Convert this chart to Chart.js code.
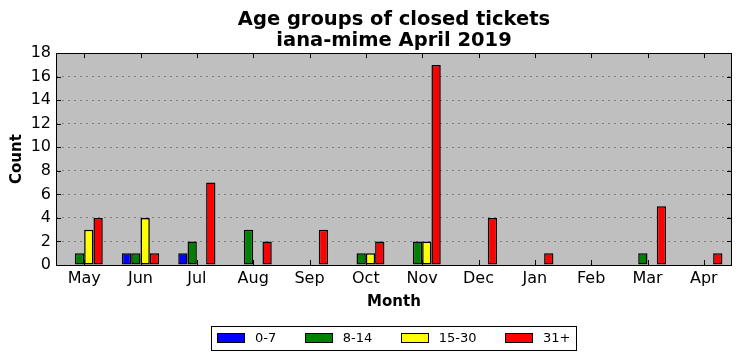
<!DOCTYPE html>
<html>
<head>
<meta charset="utf-8">
<script src="https://cdn.jsdelivr.net/npm/chart.js@4.4.1/dist/chart.umd.min.js"></script>
<style>
  html, body { margin: 0; padding: 0; background: #ffffff; }
  #wrap { width: 741px; height: 361px; }
</style>
</head>
<body>
<div id="wrap"><canvas id="ageChart" width="741" height="361"></canvas></div>
<script>
const months = ["May", "Jun", "Jul", "Aug", "Sep", "Oct", "Nov", "Dec", "Jan", "Feb", "Mar", "Apr"];
const age0to7 = [0, 1, 1, 0, 0, 0, 0, 0, 0, 0, 0, 0];
const age8to14 = [1, 1, 2, 3, 0, 1, 2, 0, 0, 0, 1, 0];
const age15to30 = [3, 4, 0, 0, 0, 1, 2, 0, 0, 0, 0, 0];
const age31plus = [4, 1, 7, 2, 3, 2, 17, 4, 1, 0, 5, 1];
const yTicks = [0, 2, 4, 6, 8, 10, 12, 14, 16, 18];

const FONT = "'DejaVu Sans', sans-serif";

// grey plot background, black frame, inward ticks and a boxed legend
const axesLook = {
  id: "axesLook",
  beforeDraw(chart) {
    const a = chart.chartArea;
    const ctx = chart.ctx;
    ctx.save();
    ctx.fillStyle = "#bfbfbf";
    ctx.fillRect(a.left, a.top, a.right - a.left, a.bottom - a.top);
    ctx.restore();
  },
  afterDraw(chart) {
    const a = chart.chartArea;
    const ctx = chart.ctx;
    const x = chart.scales.x;
    const y = chart.scales.y;
    ctx.save();
    ctx.strokeStyle = "#000000";
    ctx.lineWidth = 1;
    ctx.beginPath();
    yTicks.forEach(function (v) {
      const py = Math.round(y.getPixelForValue(v)) + 0.5;
      ctx.moveTo(a.left, py); ctx.lineTo(a.left + 5, py);
      ctx.moveTo(a.right, py); ctx.lineTo(a.right - 5, py);
    });
    months.forEach(function (m, i) {
      const px = Math.round(x.getPixelForValue(i)) + 0.5;
      ctx.moveTo(px, a.bottom); ctx.lineTo(px, a.bottom - 5);
      ctx.moveTo(px, a.top); ctx.lineTo(px, a.top + 5);
    });
    ctx.stroke();
    ctx.strokeRect(Math.round(a.left) + 0.5, Math.round(a.top) + 0.5,
      Math.round(a.right - a.left) - 1, Math.round(a.bottom - a.top));

    // legend, centred under the axes
    const sets = chart.data.datasets;
    ctx.font = "13px " + FONT;
    const swW = 28, swH = 10, txtGap = 10, itemGap = 28.5, pad = 6;
    let total = 0;
    sets.forEach(function (ds, i) {
      total += swW + txtGap + ctx.measureText(ds.label).width;
      if (i < sets.length - 1) total += itemGap;
    });
    const cx = (a.left + a.right) / 2;
    const boxL = Math.round(cx - total / 2 - pad);
    const boxW = Math.round(total + pad * 2);
    const boxT = 326, boxH = 24, midY = boxT + boxH / 2;
    ctx.strokeRect(boxL + 0.5, boxT + 0.5, boxW, boxH);
    let cur = boxL + pad;
    ctx.textBaseline = "middle";
    ctx.textAlign = "left";
    sets.forEach(function (ds) {
      const sy = Math.round(midY - swH / 2);
      ctx.fillStyle = ds.backgroundColor;
      ctx.fillRect(Math.round(cur), sy, swW, swH);
      ctx.strokeRect(Math.round(cur) + 0.5, sy + 0.5, swW - 1, swH - 1);
      ctx.fillStyle = "#000000";
      ctx.fillText(ds.label, cur + swW + txtGap, midY + 0.5);
      cur += swW + txtGap + ctx.measureText(ds.label).width + itemGap;
    });
    ctx.restore();
  }
};

function barSet(label, data, color) {
  return {
    label: label,
    data: data,
    backgroundColor: color,
    borderColor: "#000000",
    borderWidth: 1.5,
    borderSkipped: false
  };
}

const ctx = document.getElementById("ageChart").getContext("2d");

new Chart(ctx, {
  type: "bar",
  data: {
    labels: months,
    datasets: [
      barSet("0-7", age0to7, "#0000ff"),
      barSet("8-14", age8to14, "#008000"),
      barSet("15-30", age15to30, "#ffff00"),
      barSet("31+", age31plus, "#ff0000")
    ]
  },
  plugins: [axesLook],
  options: {
    responsive: false,
    animation: false,
    devicePixelRatio: 1,
    layout: {
      padding: { left: 0, right: 9, top: 0, bottom: 50 }
    },
    datasets: {
      bar: {
        categoryPercentage: 0.66,
        barPercentage: 1.0
      }
    },
    plugins: {
      title: {
        display: true,
        fullSize: false,
        text: ["Age groups of closed tickets", "iana-mime April 2019"],
        color: "#000000",
        font: { family: FONT, size: 19.5, weight: "bold", lineHeight: 1.08 },
        padding: { top: 9, bottom: 2 }
      },
      legend: { display: false },
      tooltip: { enabled: false }
    },
    scales: {
      x: {
        afterFit: function (scale) { scale.height = 46; },
        grid: { display: false, drawTicks: false },
        border: { display: false },
        ticks: {
          color: "#000000",
          font: { family: FONT, size: 16 },
          padding: 4,
          maxRotation: 0
        },
        title: {
          display: true,
          text: "Month",
          color: "#000000",
          font: { family: FONT, size: 15, weight: "bold" },
          padding: { top: 4, bottom: 0 }
        }
      },
      y: {
        min: 0,
        max: 18,
        afterFit: function (scale) { scale.width = 56; },
        afterBuildTicks: function (scale) {
          scale.ticks = yTicks.map(function (v) { return { value: v }; });
        },
        grid: {
          color: "#7f7f7f",
          lineWidth: 1,
          drawTicks: false
        },
        border: { display: false, dash: [2, 4] },
        ticks: {
          color: "#000000",
          font: { family: FONT, size: 16 },
          padding: 5
        },
        title: {
          display: true,
          text: "Count",
          color: "#000000",
          font: { family: FONT, size: 15, weight: "bold" },
          padding: { top: 8, bottom: 0 }
        }
      }
    }
  }
});
</script>
</body>
</html>
